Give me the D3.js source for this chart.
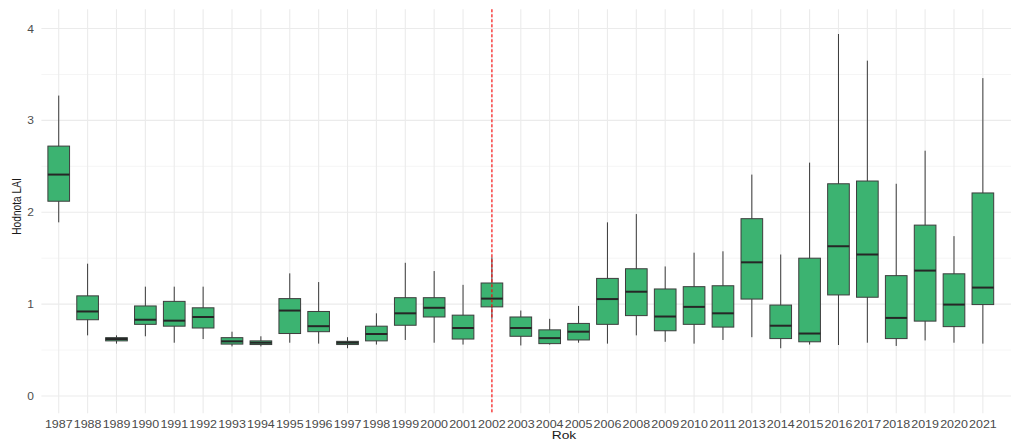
<!DOCTYPE html>
<html>
<head>
<meta charset="utf-8">
<script src="https://cdn.jsdelivr.net/npm/d3@7"></script>
<style>
  html, body { margin: 0; padding: 0; background: #ffffff; }
  svg { display: block; }
  text { font-family: "Liberation Sans", Arial, sans-serif; }
</style>
</head>
<body>
<svg id="chart" width="1011" height="444"></svg>
<script>
// LAI per year: lower whisker, Q1, median, Q3, upper whisker
const years = ["1987","1988","1989","1990","1991","1992","1993","1994","1995","1996",
  "1997","1998","1999","2000","2001","2002","2003","2004","2005","2006",
  "2008","2009","2010","2011","2013","2014","2015","2016","2017","2018",
  "2019","2020","2021"];
const whiskerLow = [1.89,0.66,0.57,0.65,0.58,0.62,0.54,0.54,0.58,0.57,
  0.52,0.56,0.61,0.58,0.56,0.84,0.55,0.56,0.58,0.57,
  0.66,0.59,0.57,0.61,0.64,0.52,0.56,0.555,0.58,0.545,
  0.605,0.58,0.57];
const q1 = [2.12,0.83,0.60,0.78,0.76,0.74,0.565,0.56,0.68,0.70,
  0.56,0.60,0.77,0.86,0.62,0.97,0.65,0.57,0.61,0.78,
  0.875,0.71,0.78,0.75,1.055,0.625,0.59,1.10,1.075,0.625,
  0.815,0.755,0.995];
const median = [2.41,0.92,0.62,0.83,0.82,0.86,0.595,0.58,0.93,0.76,
  0.58,0.675,0.90,0.96,0.74,1.06,0.74,0.63,0.70,1.055,
  1.135,0.865,0.97,0.90,1.455,0.765,0.68,1.63,1.54,0.85,
  1.365,0.995,1.18];
const q3 = [2.72,1.09,0.635,0.98,1.03,0.96,0.635,0.60,1.06,0.92,
  0.595,0.76,1.07,1.07,0.88,1.23,0.86,0.72,0.79,1.28,
  1.385,1.165,1.19,1.20,1.93,0.99,1.50,2.31,2.34,1.31,
  1.86,1.33,2.21];
const whiskerHigh = [3.27,1.44,0.66,1.19,1.19,1.19,0.70,0.65,1.335,1.24,
  0.64,0.90,1.45,1.36,1.21,1.51,0.93,0.84,0.98,1.89,
  1.98,1.41,1.56,1.575,2.41,1.54,2.54,3.94,3.65,2.31,
  2.67,1.74,3.46];
const yTicks = [0, 1, 2, 3, 4];
const yMinor = [0.5, 1.5, 2.5, 3.5];
const markerYear = "2002";

const svg = d3.select("#chart");
const panel = { left: 41.4, right: 1000.2, top: 9.3, bottom: 413.3, gridRight: 1011 };
const stretch = 1.2; // horizontal text stretch

const x = d3.scaleBand()
  .domain(years)
  .range([panel.left, panel.right])
  .paddingInner(0)
  .paddingOuter(0.1);
const y = d3.scaleLinear().domain([0, 4]).range([396, 28.5]);

const cx = d => x(d) + x.bandwidth() / 2;
const boxW = x.step() * 0.75;

const boxes = years.map((yr, i) => ({
  year: yr, lo: whiskerLow[i], q1: q1[i], med: median[i], q3: q3[i], hi: whiskerHigh[i]
}));

// grid
const grid = svg.append("g");
grid.selectAll("line.minor").data(yMinor).join("line")
  .attr("x1", panel.left).attr("x2", panel.gridRight)
  .attr("y1", d => y(d)).attr("y2", d => y(d))
  .attr("stroke", "#f3f3f3").attr("stroke-width", 0.8);
grid.selectAll("line.major").data(yTicks).join("line")
  .attr("x1", panel.left).attr("x2", panel.gridRight)
  .attr("y1", d => y(d)).attr("y2", d => y(d))
  .attr("stroke", "#ebebeb").attr("stroke-width", 1.1);
grid.selectAll("line.vert").data(years).join("line")
  .attr("x1", d => cx(d)).attr("x2", d => cx(d))
  .attr("y1", panel.top).attr("y2", panel.bottom)
  .attr("stroke", "#ebebeb").attr("stroke-width", 1.1);

// boxplots
const g = svg.append("g");
g.selectAll("line.whisker").data(boxes).join("line")
  .attr("x1", d => cx(d.year)).attr("x2", d => cx(d.year))
  .attr("y1", d => y(d.lo)).attr("y2", d => y(d.hi))
  .attr("stroke", "#3a3a3a").attr("stroke-width", 1);
g.selectAll("rect.box").data(boxes).join("rect")
  .attr("x", d => cx(d.year) - boxW / 2)
  .attr("width", boxW)
  .attr("y", d => y(d.q3))
  .attr("height", d => Math.max(1, y(d.q1) - y(d.q3)))
  .attr("fill", "#3CB371")
  .attr("stroke", "#3d3d3d").attr("stroke-width", 1);
g.selectAll("line.median").data(boxes).join("line")
  .attr("x1", d => cx(d.year) - boxW / 2).attr("x2", d => cx(d.year) + boxW / 2)
  .attr("y1", d => y(d.med)).attr("y2", d => y(d.med))
  .attr("stroke", "#262626").attr("stroke-width", 2);

// reference line
svg.append("line")
  .attr("x1", cx(markerYear)).attr("x2", cx(markerYear))
  .attr("y1", panel.top).attr("y2", panel.bottom)
  .attr("stroke", "#ff0000").attr("stroke-width", 1.1)
  .attr("stroke-dasharray", "3,2");

// y axis labels
const yAxis = d3.axisLeft(y).tickValues(yTicks).tickSize(0).tickPadding(0).tickFormat(d3.format("d"));
const ya = svg.append("g").attr("transform", "translate(34,0)").call(yAxis);
ya.select(".domain").remove();
ya.selectAll("text")
  .attr("x", 0).attr("dy", "0.36em")
  .attr("transform", `scale(${stretch},1)`)
  .attr("font-size", 10).attr("fill", "#4d4d4d")
  .attr("font-family", "Liberation Sans, Arial, sans-serif");

// x axis labels
const xAxis = d3.axisBottom(x).tickSize(0).tickPadding(0);
const xa = svg.append("g").attr("transform", "translate(0,427.5)").call(xAxis);
xa.select(".domain").remove();
xa.selectAll("text")
  .attr("y", 0).attr("dy", 0)
  .attr("transform", `scale(${stretch},1)`)
  .attr("font-size", 10.4).attr("fill", "#4a4a4a")
  .attr("font-family", "Liberation Sans, Arial, sans-serif");

// axis titles
svg.append("text")
  .attr("transform", `translate(564,438.5) scale(${stretch},1)`)
  .attr("text-anchor", "middle")
  .attr("font-size", 11.5).attr("fill", "#1a1a1a")
  .text("Rok");
svg.append("text")
  .attr("transform", `translate(20.5,206.5) scale(${stretch},1) rotate(-90)`)
  .attr("text-anchor", "middle")
  .attr("font-size", 10.2).attr("fill", "#1a1a1a")
  .text("Hodnota LAI");
</script>
</body>
</html>
